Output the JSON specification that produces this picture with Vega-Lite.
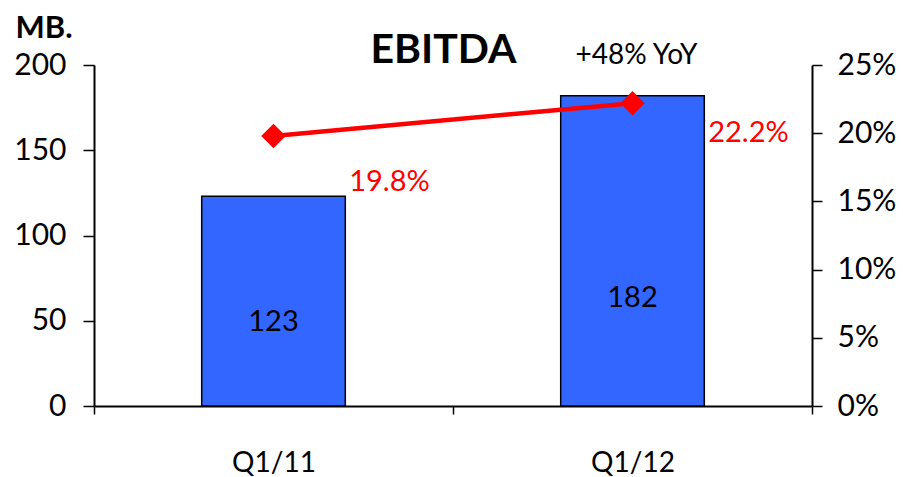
{
  "$schema": "https://vega.github.io/schema/vega-lite/v6.json",
  "width": 718,
  "height": 341,
  "autosize": "none",
  "padding": {"left": 94, "top": 65, "right": 91, "bottom": 71},
  "background": "white",
  "config": {
    "view": {"stroke": null},
    "font": "Lato",
    "axis": {
      "grid": false,
      "labelFont": "Lato",
      "labelFontSize": 30,
      "labelColor": "black",
      "domainColor": "black",
      "domainWidth": 2,
      "tickColor": "black",
      "tickWidth": 1.5,
      "titleColor": "black",
      "titleFont": "Lato"
    }
  },
  "data": {
    "values": [
      {"quarter": "Q1/11", "ebitda": 123, "margin": 0.198, "note": ""},
      {"quarter": "Q1/12", "ebitda": 182, "margin": 0.222, "note": "+48% YoY"}
    ]
  },
  "encoding": {
    "x": {
      "field": "quarter",
      "type": "nominal",
      "sort": null,
      "scale": {"paddingInner": 0, "paddingOuter": 0},
      "axis": {
        "title": null,
        "tickBand": "extent",
        "labelAngle": 0,
        "tickSize": 8,
        "labelFontSize": 28,
        "labelPadding": 35
      }
    }
  },
  "layer": [
    {
      "encoding": {
        "y": {"field": "ebitda", "type": "quantitative", "scale": {"domain": [0, 200], "nice": false}}
      },
      "layer": [
        {
          "mark": {"type": "bar", "width": {"band": 0.4}, "fill": "#3366FF", "stroke": "black", "strokeWidth": 1.5},
          "encoding": {
            "y": {
              "field": "ebitda",
              "type": "quantitative",
              "scale": {"domain": [0, 200], "nice": false},
              "axis": {
                "orient": "left",
                "values": [0, 50, 100, 150, 200],
                "title": "MB.",
                "titleAngle": 0,
                "titleAlign": "left",
                "titleBaseline": "alphabetic",
                "titleX": -79,
                "titleY": -28,
                "titleFontSize": 31,
                "titleFontWeight": "bold",
                "tickSize": 11,
                "labelPadding": 17
              }
            }
          }
        },
        {
          "transform": [{"filter": "datum.quarter === 'Q1/11'"}],
          "mark": {"type": "text", "fontSize": 29, "color": "black", "baseline": "middle", "dy": 126},
          "encoding": {"text": {"field": "ebitda", "type": "quantitative"}}
        },
        {
          "transform": [{"filter": "datum.quarter === 'Q1/12'"}],
          "mark": {"type": "text", "fontSize": 29, "color": "black", "baseline": "middle", "dy": 202},
          "encoding": {"text": {"field": "ebitda", "type": "quantitative"}}
        },
        {
          "transform": [{"filter": "datum.quarter === 'Q1/12'"}],
          "mark": {"type": "text", "fontSize": 28, "color": "black", "baseline": "alphabetic", "dx": 4, "dy": -32},
          "encoding": {"text": {"field": "note", "type": "nominal"}}
        },
        {
          "transform": [{"filter": "datum.quarter === 'Q1/12'"}],
          "mark": {"type": "text", "fontSize": 41, "fontWeight": "bold", "color": "black", "baseline": "alphabetic", "dx": -189, "dy": -33},
          "encoding": {"text": {"value": "EBITDA"}}
        }
      ]
    },
    {
      "encoding": {
        "y": {"field": "margin", "type": "quantitative", "scale": {"domain": [0, 0.25], "nice": false}}
      },
      "layer": [
        {
          "mark": {"type": "line", "color": "#FF0000", "strokeWidth": 4.5},
          "encoding": {
            "y": {
              "field": "margin",
              "type": "quantitative",
              "scale": {"domain": [0, 0.25], "nice": false},
              "axis": {
                "orient": "right",
                "format": ".0%",
                "values": [0, 0.05, 0.1, 0.15, 0.2, 0.25],
                "title": null,
                "tickSize": 10,
                "labelPadding": 15
              }
            }
          }
        },
        {
          "mark": {"type": "point", "shape": "diamond", "size": 600, "filled": true, "color": "#FF0000", "opacity": 1}
        },
        {
          "transform": [{"filter": "datum.quarter === 'Q1/11'"}],
          "mark": {"type": "text", "fontSize": 29, "color": "#FF0000", "baseline": "middle", "dx": 116, "dy": 46},
          "encoding": {"text": {"field": "margin", "type": "quantitative", "format": ".1%"}}
        },
        {
          "transform": [{"filter": "datum.quarter === 'Q1/12'"}],
          "mark": {"type": "text", "fontSize": 29, "color": "#FF0000", "baseline": "middle", "dx": 116, "dy": 30},
          "encoding": {"text": {"field": "margin", "type": "quantitative", "format": ".1%"}}
        }
      ]
    }
  ],
  "resolve": {"scale": {"y": "independent"}}
}
